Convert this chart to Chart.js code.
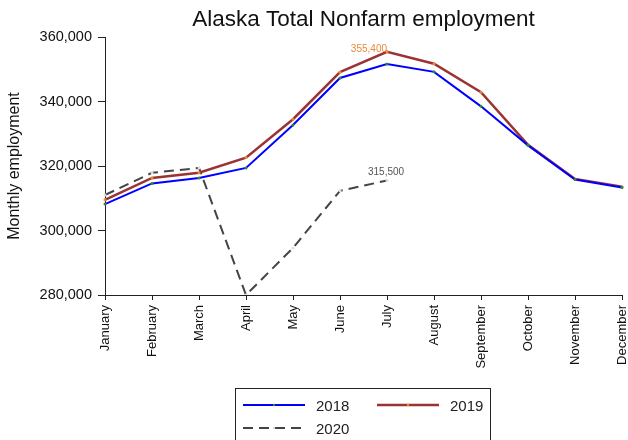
<!DOCTYPE html>
<html>
<head>
<meta charset="utf-8">
<script src="https://cdn.jsdelivr.net/npm/chart.js@4.4.0/dist/chart.umd.min.js"></script>
<style>
  body { margin: 0; background: #fff; font-family: "Liberation Sans", Arial, sans-serif; }
  #wrap { position: relative; width: 628px; height: 440px; }
  #legend { position: absolute; left: 235px; top: 388px; width: 256px; height: 60px;
            border: 1px solid #222; box-sizing: border-box; font-size: 15px; color: #222; }
  .item { position: absolute; display: flex; align-items: center; }
  .item svg { margin-right: 11px; }
</style>
</head>
<body>
<div id="wrap">
  <canvas id="chart" width="628" height="440"></canvas>
  <div id="legend"></div>
</div>
<script>
var months = ["January","February","March","April","May","June","July","August","September","October","November","December"];
var years = ["2018","2019","2020"];
var emp2018 = [308200,314600,316300,319400,332700,347300,351600,349200,338500,326400,315800,313300];
var emp2019 = [309500,316300,317900,322600,334500,349100,355400,351700,342900,326600,316000,313600];
var emp2020 = [311000,317900,319400,280000,294600,312300,315500];
var yTicks = [280000,300000,320000,340000,360000];

var lineColors = ["#0000ff","#9b3333","#444444"];
var dotColors = ["#2e8b3e","#e8893a","#dddddd"];
var dashes = [[],[],[10,6]];
var font = "'Liberation Sans', Arial, sans-serif";

// labels on the last point of 2019 and 2020
var pointLabels = {
  id: "pointLabels",
  afterDatasetsDraw: function(chart) {
    var ctx = chart.ctx;
    ctx.save();
    ctx.font = "10px " + font;
    ctx.textBaseline = "bottom";
    var p19 = chart.getDatasetMeta(1).data[6];
    ctx.fillStyle = "#e8893a";
    ctx.textAlign = "right";
    ctx.fillText(emp2019[6].toLocaleString("en-US"), p19.x, p19.y + 2);
    var p20 = chart.getDatasetMeta(2).data[6];
    ctx.fillStyle = "#555";
    ctx.textAlign = "left";
    ctx.fillText(emp2020[6].toLocaleString("en-US"), p20.x - 19, p20.y - 3);
    ctx.restore();
  }
};

var series = [emp2018, emp2019, emp2020];
var datasets = series.map(function(d, i){
  return {
    label: years[i],
    data: d,
    borderColor: lineColors[i],
    borderWidth: i == 1 ? 2.5 : 2,
    borderDash: dashes[i],
    pointRadius: 1.5,
    pointBorderWidth: 0,
    pointBackgroundColor: dotColors[i],
    tension: 0,
    fill: false
  };
});

new Chart(document.getElementById("chart"), {
  type: "line",
  data: { labels: months, datasets: datasets },
  plugins: [pointLabels],
  options: {
    responsive: false,
    animation: false,
    layout: { padding: { left: 0, right: 6, top: 0, bottom: 0 } },
    plugins: {
      legend: { display: false },
      tooltip: { enabled: false },
      title: {
        display: true,
        fullSize: false,
        text: "Alaska Total Nonfarm employment",
        color: "#111",
        font: { family: font, size: 22.5, weight: "normal" },
        padding: { top: 6, bottom: 4 }
      }
    },
    scales: {
      x: {
        afterFit: function(s){ s.height = 145; s.paddingLeft = 0; s.paddingRight = 0; },
        grid: { display: true, drawOnChartArea: false, tickLength: 5, color: "#222" },
        border: { color: "#222", width: 1 },
        ticks: {
          color: "#111", minRotation: 90, maxRotation: 90, padding: 5, autoSkip: false,
          font: { family: font, size: 13 }
        }
      },
      y: {
        min: 280000, max: 360000,
        afterFit: function(s){ s.width = 105; s.paddingTop = 0; s.paddingBottom = 0; },
        afterBuildTicks: function(s){ s.ticks = yTicks.map(function(v){ return { value: v }; }); },
        grid: { display: true, drawOnChartArea: false, tickLength: 7, color: "#222" },
        border: { color: "#222", width: 1 },
        title: {
          display: true, text: "Monthly employment", color: "#111",
          font: { family: font, size: 16 },
          padding: { top: 5, bottom: 0 }
        },
        ticks: {
          color: "#111", padding: 6,
          font: { family: font, size: 14.5 },
          callback: function(v){ return v.toLocaleString("en-US"); }
        }
      }
    }
  }
});

// legend box below the chart
var legend = document.getElementById("legend");
var spots = [[7, 6], [141, 6], [7, 29]];
years.forEach(function(y, i){
  var el = document.createElement("div");
  el.className = "item";
  el.style.left = spots[i][0] + "px";
  el.style.top = spots[i][1] + "px";
  var dash = dashes[i].length ? ' stroke-dasharray="' + dashes[i].join(",") + '"' : "";
  el.innerHTML = '<svg width="62" height="20"><line x1="0" y1="10" x2="62" y2="10" stroke="' +
    lineColors[i] + '" stroke-width="' + (i == 1 ? 2.5 : 2) + '"' + dash + '/>' +
    '<circle cx="31" cy="10" r="1.2" fill="' + dotColors[i] + '"/></svg><span>' + y + '</span>';
  legend.appendChild(el);
});
</script>
</body>
</html>
